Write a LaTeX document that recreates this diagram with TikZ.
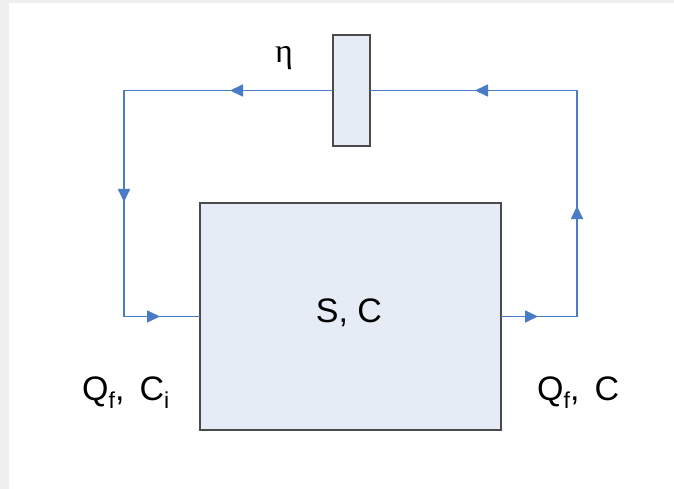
\documentclass[tikz,border=0pt]{standalone}
\usepackage{fontspec}
\setmainfont{Liberation Sans}
\newfontfamily\greekserif{Liberation Serif}
\usetikzlibrary{arrows.meta,decorations.markings}
\definecolor{flow}{HTML}{4A7CC6}
\definecolor{boxfill}{HTML}{E6ECF6}
\definecolor{boxedge}{HTML}{4A4A4A}
\definecolor{strip}{HTML}{EFEFEF}
\newcommand{\lowsub}[1]{\raisebox{-0.26em}{\fontsize{23}{26}\selectfont #1}}
\tikzset{
  unitbox/.style={draw=boxedge, line width=2.2pt, fill=boxfill, inner sep=0pt, outer sep=0pt},
  flowline/.style={draw=flow, line width=1.7pt, line join=miter},
  lbl/.style={font=\fontsize{34}{38}\selectfont, inner sep=0pt},
  tipA/.style={-{Triangle[length=13pt,width=12pt]}}
}
\begin{document}
\begin{tikzpicture}[x=1pt,y=-1pt]
\useasboundingbox (0,0) rectangle (674,489);
\fill[strip] (0,0) rectangle (674,3.5);
\fill[strip] (0,0) rectangle (9,489);
\node[unitbox, minimum width=301pt, minimum height=227pt] (box) at (350.5,316.5) {};
\node[unitbox, minimum width=37pt, minimum height=111pt] (filt) at (351.5,90.5) {};
\node[lbl] (sc) at (349,313) {S, C};
\node[font=\greekserif\fontsize{34}{38}\selectfont, inner sep=0pt] (eta) at (284,58) {η};
\node[lbl, anchor=base west] (qin) at (82,400) {Q\lowsub{f}, \,C\lowsub{i}};
\node[lbl, anchor=base west] (qout) at (537,400) {Q\lowsub{f}, \,C};
\coordinate (br) at (577,316.5);
\coordinate (tr) at (577,90.5);
\coordinate (tl) at (124,90.5);
\coordinate (bl) at (124,316.5);
% outlet loop: box -> right -> up -> filter
\draw[flowline] (box.east) -- (br) -- (tr) -- (filt.east);
\draw[flowline] (filt.west) -- (tl) -- (bl) -- (box.west);
% arrowheads
\draw[flowline, tipA] (box.east) -- (538,316.5);
\draw[flowline, tipA] (br) -- (577,206);
\draw[flowline, tipA] (tr) -- (475,90.5);
\draw[flowline, tipA] (filt.west) -- (230,90.5);
\draw[flowline, tipA] (tl) -- (124,202);
\draw[flowline, tipA] (bl) -- (160,316.5);
\end{tikzpicture}
\end{document}
